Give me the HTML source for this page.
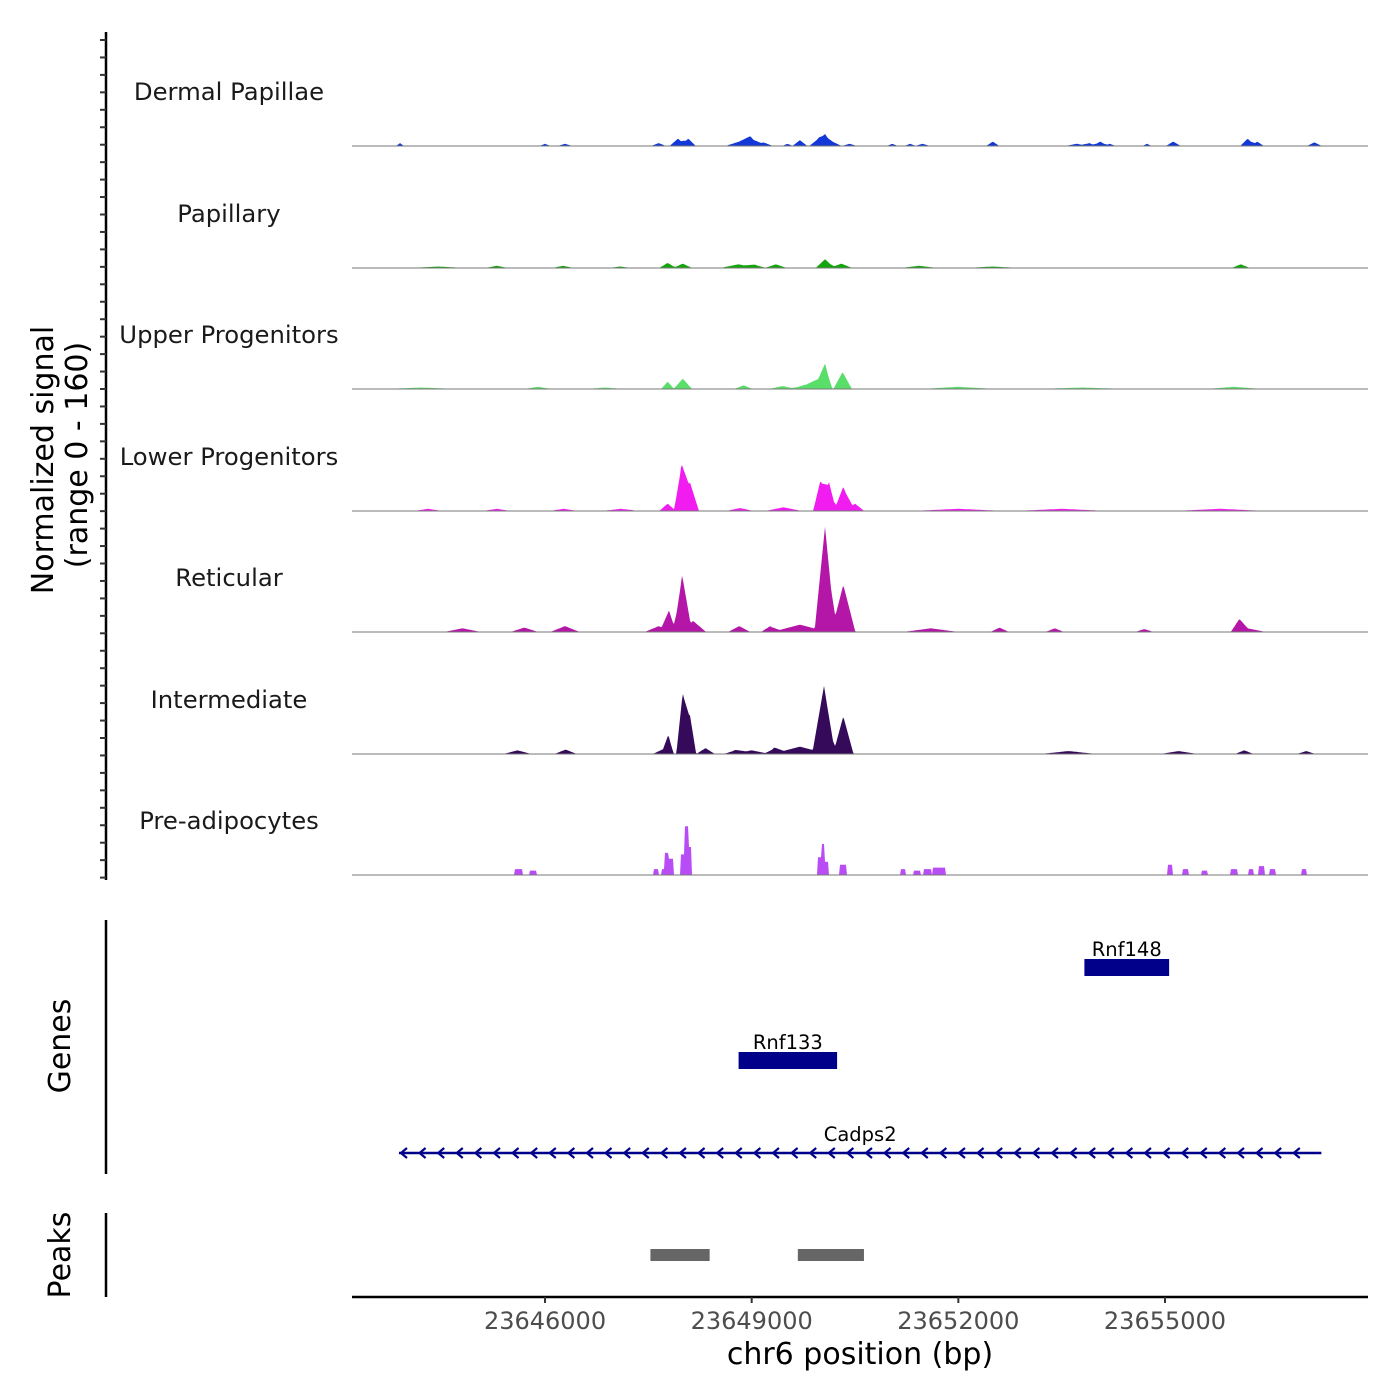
<!DOCTYPE html>
<html><head><meta charset="utf-8"><style>
body{margin:0;background:#fff}
svg{display:block;font-family:"DejaVu Sans","Liberation Sans",sans-serif}
</style></head><body>
<svg id="chart" width="1400" height="1400" viewBox="0 0 1400 1400">
<g id="tracks"></g>
<g id="left-axis"></g>
<text transform="translate(53,460) rotate(-90)" text-anchor="middle" font-size="30" fill="#000">Normalized signal</text>
<text transform="translate(87,455) rotate(-90)" text-anchor="middle" font-size="30" fill="#000">(range 0 - 160)</text>
<line x1="106" y1="920" x2="106" y2="1174" stroke="#000" stroke-width="2.5"/>
<text transform="translate(70,1046) rotate(-90)" text-anchor="middle" font-size="30">Genes</text>
<line x1="106" y1="1213" x2="106" y2="1297" stroke="#000" stroke-width="2.5"/>
<text transform="translate(70,1255) rotate(-90)" text-anchor="middle" font-size="30">Peaks</text>
<g id="genes"></g>
<g id="peaks"></g>
<g id="xaxis"></g>
<text x="860" y="1364" text-anchor="middle" font-size="30">chr6 position (bp)</text>
</svg>
<script>
const NS="http://www.w3.org/2000/svg";
const trackNames=["Dermal Papillae","Papillary","Upper Progenitors","Lower Progenitors","Reticular","Intermediate","Pre-adipocytes"];
const trackColors=["#1238d8","#14a50c","#5ade6a","#f01cf0","#b417a8","#350a5a","#b84cf5"];
const yMax=160;
// peak centers (bp), heights (signal), half-widths (bp) per track
const dpCenters=[23643895,23646000,23646290,23647650,23647930,23648080,23648820,23648980,23649170,23649520,23649700,23649970,23650065,23650170,23650420,23651040,23651300,23651480,23652500,23653720,23653900,23654060,23654200,23654740,23655120,23656200,23656340,23657170];
const dpHeights=[4,3,3,4,10,10,6,12,5,3,8,10,12,6,3,3,3,3,6,3,4,6,3,3,6,10,6,5];
const dpWidths=[40,60,80,80,90,80,150,120,100,60,80,100,80,100,80,60,60,80,70,120,80,80,60,50,80,80,70,80];
const paCenters=[23644450,23645300,23646260,23647090,23647780,23648000,23648810,23649050,23649350,23650065,23650300,23651430,23652500,23656100];
const paHeights=[2,3,3,2,7,6,5,4,5,12,6,3,2,5];
const paWidths=[300,120,120,120,90,100,200,120,120,100,120,200,300,100];
const upCenters=[23644200,23645900,23646870,23647780,23648000,23648880,23649450,23649780,23649950,23650065,23650320,23652000,23653800,23656000];
const upHeights=[2,3,2,10,14,5,4,6,12,31,23,3,2,3];
const upWidths=[400,150,200,70,100,100,150,150,120,80,100,400,500,300];
const loCenters=[23644300,23645300,23646270,23647100,23647780,23647980,23648100,23648830,23649460,23650000,23650120,23650330,23650500,23652000,23653500,23655800];
const loHeights=[3,3,3,3,10,60,40,4,5,42,40,33,10,3,3,3];
const loWidths=[150,150,150,200,90,80,100,150,200,80,80,100,100,500,500,500];
const reCenters=[23644800,23645700,23646290,23647650,23647800,23647990,23648150,23648820,23649270,23649700,23650065,23650330,23651600,23652600,23653400,23654700,23656080,23656200];
const reHeights=[5,6,8,8,27,75,15,8,8,10,142,64,5,6,5,4,15,5];
const reWidths=[200,150,160,150,80,90,140,120,100,300,110,130,300,100,100,100,90,200];
const inCenters=[23645600,23646300,23647700,23647790,23648000,23648100,23648330,23648760,23649000,23649330,23649700,23650050,23650330,23653600,23655200,23656150,23657050];
const inHeights=[5,6,6,24,84,55,8,5,5,8,10,91,51,4,4,5,4];
const inWidths=[150,120,100,60,70,70,100,120,200,100,300,120,110,300,200,100,100];
const adCenters=[23645620,23645830,23647610,23647740,23647800,23648020,23648070,23650000,23650070,23650330,23651200,23651400,23651550,23651720,23655070,23655300,23655570,23656000,23656250,23656400,23656560,23657020];
const adHeights=[8,6,8,8,22,28,38,24,18,14,8,6,8,10,14,8,6,8,8,12,8,8];
const adWidths=[60,50,40,50,60,60,50,50,50,50,40,50,60,90,40,40,40,50,40,40,50,40];
const trackCenters=[dpCenters,paCenters,upCenters,loCenters,reCenters,inCenters,adCenters];
const trackHeights=[dpHeights,paHeights,upHeights,loHeights,reHeights,inHeights,adHeights];
const trackWidths=[dpWidths,paWidths,upWidths,loWidths,reWidths,inWidths,adWidths];
const xTicks=[23646000,23649000,23652000,23655000];
const xTickLabels=["23646000","23649000","23652000","23655000"];
const genes=[{name:"Rnf148",start:23653830,end:23655060,row:0},{name:"Rnf133",start:23648810,end:23650240,row:1},{name:"Cadps2",start:23643880,end:23657270,row:2,line:true}];
const peakStarts=[23647530,23649670];
const peakEnds=[23648390,23650630];

const X0=352,X1=1368,BP0=23643198,BP1=23657947;
const x=bp=>X0+(bp-BP0)/(BP1-BP0)*(X1-X0);
const bpAt=px=>BP0+(px-X0)/(X1-X0)*(BP1-BP0);
const baselines=[146,268,389,511,632,754,875];
const trackH=118;
const wScale=1.35;
const y=(i,v)=>baselines[i]-v/yMax*trackH;
function el(t,a,p){const e=document.createElementNS(NS,t);for(const k in a)e.setAttribute(k,a[k]);p.appendChild(e);return e;}

const tg=document.getElementById('tracks');
trackNames.forEach((nm,i)=>{
  const g=el('g',{},tg);
  
  
  const lbl=el('text',{x:229,y:baselines[i]-46,'text-anchor':'middle','font-size':24.3,fill:'#1a1a1a'},g);
  lbl.textContent=nm;
  
  
  const C=trackCenters[i],H=trackHeights[i],W=trackWidths[i];
  const sc=i===6?1:wScale;
  let pts=[];
  for(let px=X0;px<=X1;px+=1){
    const b=bpAt(px);let v=0;
    for(let k=0;k<C.length;k++){const t=1-Math.abs(b-C[k])/(W[k]*sc);if(t>0)v+=H[k]*(i===6?1:t);}
    pts.push([px,Math.min(v,yMax)]);
  }
  const d='M'+X0+','+baselines[i]+pts.map(p=>'L'+p[0]+','+y(i,p[1]).toFixed(1)).join('')+'L'+X1+','+baselines[i]+'Z';
  const a=el('path',{d:d,fill:trackColors[i]},g);
  
  
  const bl=el('line',{x1:X0,x2:X1,y1:baselines[i],y2:baselines[i],stroke:'#777','stroke-width':1},g);
  
  
});

const la=document.getElementById('left-axis');
const al=el('line',{x1:106,y1:32,x2:106,y2:880,stroke:'#000','stroke-width':2.5},la);


for(let ty=40;ty<=878;ty+=17.45){
  const t=el('line',{x1:100,x2:106,y1:ty,y2:ty,stroke:'#333','stroke-width':2},la);
  
  
}

const gg=document.getElementById('genes');
const rowY=[968,1061,1153];
genes.forEach(g=>{
  const yy=rowY[g.row];
  if(g.line){
    const l=el('line',{x1:x(g.start),x2:x(g.end),y1:yy,y2:yy,stroke:'#00008b','stroke-width':2.5},gg);
    
    
    for(let ax=x(g.start)+2;ax<x(g.end)-10;ax+=18.6){
      const ar=el('path',{d:`M${ax+6},${yy-5}L${ax},${yy}L${ax+6},${yy+5}`,fill:'none',stroke:'#00008b','stroke-width':2.2},gg);
      
      
    }
  } else {
    const r=el('rect',{x:x(g.start),y:yy-9,width:x(g.end)-x(g.start),height:17,fill:'#00008b'},gg);
    
    
  }
  const t=el('text',{x:(x(g.start)+x(g.end))/2,y:yy-12,'text-anchor':'middle','font-size':19.5,fill:'#000'},gg);
  t.textContent=g.name;
  
  
});

const pg=document.getElementById('peaks');
peakStarts.forEach((s,i)=>{
  const r=el('rect',{x:x(s),y:1249,width:x(peakEnds[i])-x(s),height:12,fill:'#666'},pg);
  
  
});

const xa=document.getElementById('xaxis');
const xl=el('line',{x1:X0,x2:X1,y1:1297,y2:1297,stroke:'#000','stroke-width':2.5},xa);


xTicks.forEach((v,i)=>{
  const t=el('line',{x1:x(v),x2:x(v),y1:1297,y2:1303,stroke:'#333','stroke-width':2},xa);
  
  
  const tx=el('text',{x:x(v),y:1329,'text-anchor':'middle','font-size':24,fill:'#4d4d4d'},xa);
  tx.textContent=xTickLabels[i];
  
  
});
</script>
</body></html>
